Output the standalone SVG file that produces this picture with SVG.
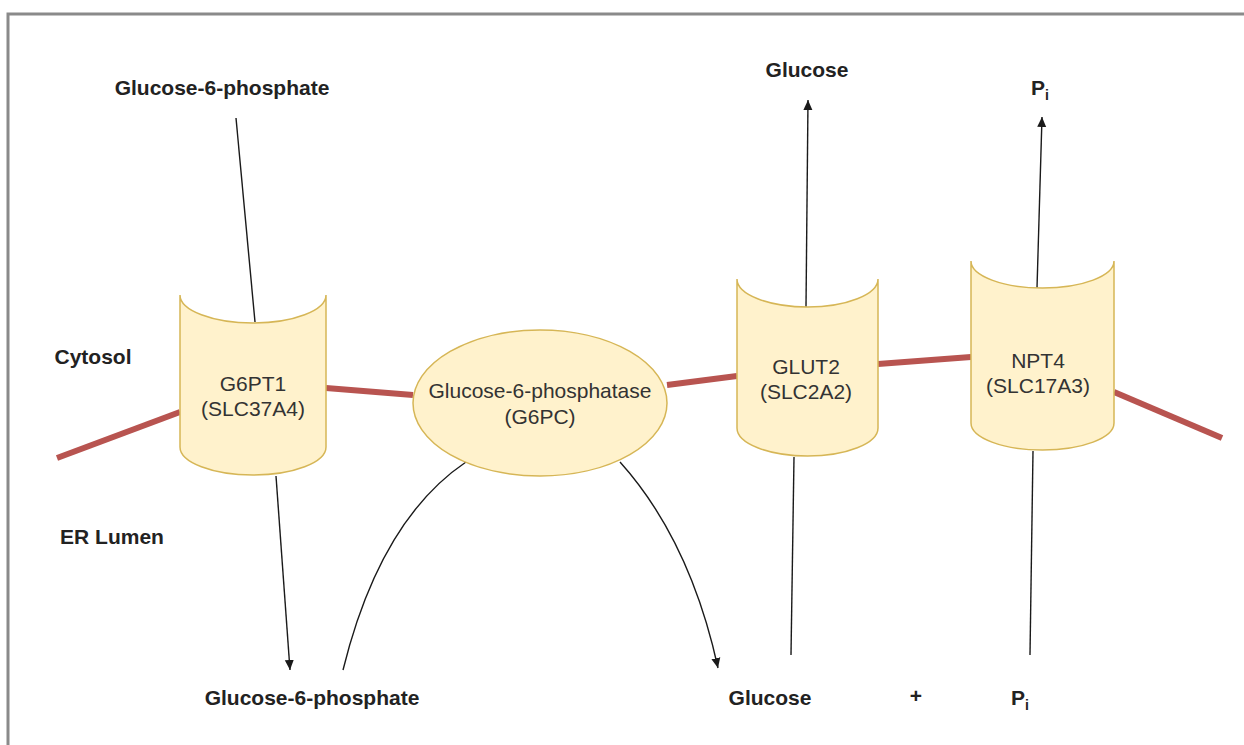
<svg xmlns="http://www.w3.org/2000/svg" width="1244" height="745" viewBox="0 0 1244 745">
<style>
.frame{fill:none;stroke:#8a8a8a;stroke-width:3}
.membrane{fill:none;stroke:#b85450;stroke-width:6;stroke-linecap:butt}
.node{fill:#fff2cc;stroke:#d6b656;stroke-width:1.5}
.conn{fill:none;stroke:#1a1a1a;stroke-width:1.4}
.lbl{font-family:"Liberation Sans",Arial,sans-serif;font-size:21px;font-weight:bold;fill:#222;text-anchor:middle}
.ntx{font-family:"Liberation Sans",Arial,sans-serif;font-size:21px;fill:#333;text-anchor:middle}
</style>
<defs>
<marker id="arr" viewBox="0 0 10 10" refX="10" refY="5" markerWidth="10" markerHeight="10" markerUnits="userSpaceOnUse" orient="auto">
<path d="M0,0.5 L10,5 L0,9.5 Z" fill="#1a1a1a"/>
</marker>
</defs>
<rect width="1244" height="745" fill="#fff"/>
<path class="frame" d="M8,745 L8,14 L1244,14"/>

<g id="membrane">
<polyline class="membrane" points="57,458 180,412"/>
<polyline class="membrane" points="326,388 413,395"/>
<polyline class="membrane" points="667,385 737,376"/>
<polyline class="membrane" points="878,364 971,357"/>
<polyline class="membrane" points="1114,392 1222,438"/>
</g>

<g id="connectors">
<line class="conn" x1="236" y1="118" x2="255" y2="322"/>
<line class="conn" x1="276" y1="476" x2="290" y2="670" marker-end="url(#arr)"/>
<path class="conn" d="M343,670 Q380,520 466,462"/>
<path class="conn" d="M620,462 Q690,540 718,668" marker-end="url(#arr)"/>
<line class="conn" x1="791" y1="655" x2="794" y2="457"/>
<line class="conn" x1="806" y1="307" x2="808" y2="100" marker-end="url(#arr)"/>
<line class="conn" x1="1030" y1="655" x2="1033" y2="451"/>
<line class="conn" x1="1037" y1="288" x2="1042" y2="117" marker-end="url(#arr)"/>
</g>

<g id="g6pt1">
<path class="node" d="M180,295 A73,28 0 0 0 326,295 L326,447 A73,28 0 0 1 180,447 Z"/>
<text class="ntx" x="253" y="391">G6PT1</text>
<text class="ntx" x="253" y="416">(SLC37A4)</text>
</g>

<g id="g6pc">
<ellipse class="node" cx="540" cy="403" rx="127" ry="73"/>
<text class="ntx" x="540" y="398">Glucose-6-phosphatase</text>
<text class="ntx" x="540" y="424">(G6PC)</text>
</g>

<g id="glut2">
<path class="node" d="M737,279 A70.5,28 0 0 0 878,279 L878,428 A70.5,28 0 0 1 737,428 Z"/>
<text class="ntx" x="806" y="374">GLUT2</text>
<text class="ntx" x="806" y="399">(SLC2A2)</text>
</g>

<g id="npt4">
<path class="node" d="M971,261 A71.5,27 0 0 0 1114,261 L1114,423 A71.5,27 0 0 1 971,423 Z"/>
<text class="ntx" x="1038" y="368">NPT4</text>
<text class="ntx" x="1038" y="393">(SLC17A3)</text>
</g>

<g id="labels">
<text class="lbl" x="222" y="95">Glucose-6-phosphate</text>
<text class="lbl" x="807" y="77">Glucose</text>
<text class="lbl" x="1040" y="95">P<tspan font-size="14" dy="5">i</tspan></text>
<text class="lbl" x="93" y="364" >Cytosol</text>
<text class="lbl" x="112" y="544">ER Lumen</text>
<text class="lbl" x="312" y="705">Glucose-6-phosphate</text>
<text class="lbl" x="770" y="705">Glucose</text>
<text class="lbl" x="916" y="703" font-size="14">+</text>
<text class="lbl" x="1020" y="705">P<tspan font-size="14" dy="5">i</tspan></text>
</g>
</svg>
